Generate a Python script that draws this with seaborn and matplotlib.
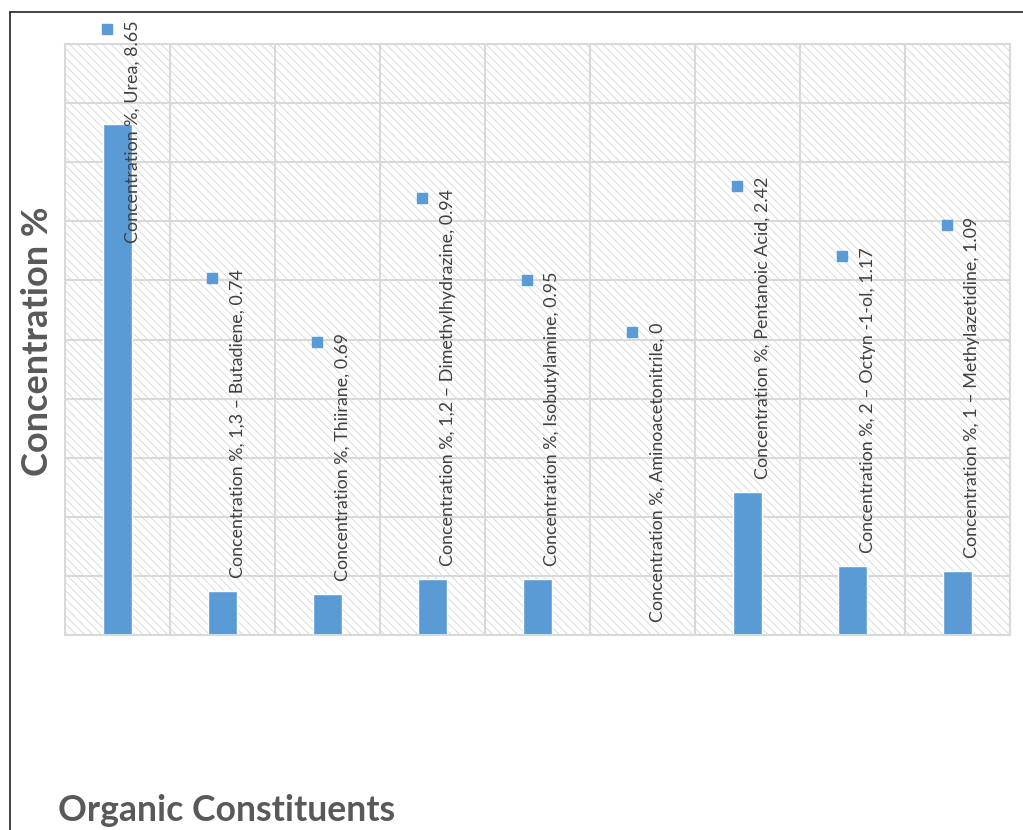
import numpy as np
import pandas as pd
import matplotlib
matplotlib.use("Agg")
import matplotlib.pyplot as plt
from matplotlib.patches import Rectangle
from matplotlib.lines import Line2D
import seaborn as sns

# Organic constituents and their measured concentration (%)
compounds = [
    "Urea",
    "1,3 \u2013 Butadiene",
    "Thiirane",
    "1,2 \u2013 Dimethylhydrazine",
    "Isobutylamine",
    "Aminoacetonitrile",
    "Pentanoic Acid",
    "2 \u2013 Octyn -1-ol",
    "1 \u2013 Methylazetidine",
]
concentration = [8.65, 0.74, 0.69, 0.94, 0.95, 0.0, 2.42, 1.17, 1.09]
value_labels = ["8.65", "0.74", "0.69", "0.94", "0.95", "0", "2.42", "1.17", "1.09"]
series_name = "Concentration %"

BAR = "#5b9bd5"
GRID = "#d9d9d9"
TEXT = "#404040"
TITLE = "#595959"

sns.set_style("white")
plt.rcParams["font.family"] = ["Lato", "DejaVu Sans"]
plt.rcParams["hatch.linewidth"] = 0.6

W, H = 1023, 830
fig = plt.figure(figsize=(W / 100, H / 100), dpi=100)
ax = fig.add_axes([65 / W, 1 - 635 / H, (1010 - 65) / W, (635 - 44) / H])

df = pd.DataFrame({"compound": compounds, "value": concentration})
sns.barplot(data=df, x="compound", y="value", color=BAR, saturation=1,
            width=0.27, ax=ax, zorder=2)

# hatched plot-area background
ax.add_patch(Rectangle((0, 0), 1, 1, transform=ax.transAxes, facecolor="white",
                       edgecolor="#d6d6d6", hatch="\\\\\\\\", lw=0, zorder=0.1))

ax.set_xlim(-0.5, len(compounds) - 0.5)
ax.set_ylim(0, 10)
ax.set_yticks(np.arange(0, 11, 1))
ax.set_xticks(np.arange(-0.5, len(compounds), 1))
ax.tick_params(length=0, labelleft=False, labelbottom=False)
ax.set_axisbelow(True)
ax.grid(True, color=GRID, lw=1.5, zorder=0.5)
for sp in ax.spines.values():
    sp.set_color(GRID)
    sp.set_linewidth(1.5)
ax.set_xlabel("")
ax.set_ylabel("")

# rotated data labels with a series key next to each
labels = []
for i, (name, v, vl) in enumerate(zip(compounds, concentration, value_labels)):
    t = ax.annotate(f"{series_name}, {name}, {vl}", xy=(i, v),
                    xytext=(15, 13), textcoords="offset pixels",
                    rotation=90, ha="center", va="bottom",
                    fontsize=12.9, color=TEXT, zorder=5, annotation_clip=False)
    labels.append(t)

fig.canvas.draw()
renderer = fig.canvas.get_renderer()
top_limit = H - 20
for i, t in enumerate(labels):
    bb = t.get_window_extent(renderer)
    if bb.y1 > top_limit:
        dx, dy = t.xyann
        t.xyann = (dx, dy - (bb.y1 - top_limit))
fig.canvas.draw()
for i, t in enumerate(labels):
    bb = t.get_window_extent(renderer)
    bar_x = ax.transData.transform((i, 0))[0]
    fig.add_artist(Line2D([(bar_x - 11) / W], [(bb.y1 - 9) / H],
                          transform=fig.transFigure, marker="s", ms=7.2,
                          color=BAR, ls="none"))

# axis titles
fig.text(38 / W, 1 - 341 / H, "Concentration %", rotation=90, ha="center",
         va="center", fontsize=26, fontweight="bold", color=TITLE)
fig.text(58 / W, 1 - 810 / H, "Organic Constituents", ha="left", va="center",
         fontsize=25.7, fontweight="bold", color=TITLE)

# chart frame
fig.add_artist(Line2D([10 / W, 10 / W], [1 - 12 / H, 0], transform=fig.transFigure,
                      color="#222222", lw=1.2))
fig.add_artist(Line2D([10 / W, 1], [1 - 12 / H, 1 - 12 / H], transform=fig.transFigure,
                      color="#222222", lw=1.2))

fig.savefig("out.png", dpi=100)
